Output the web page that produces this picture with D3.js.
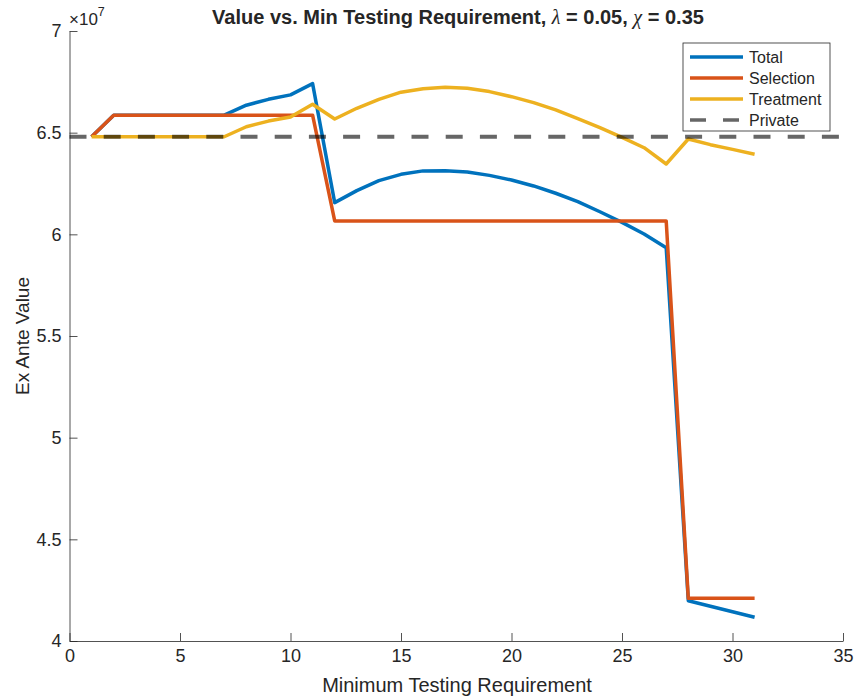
<!DOCTYPE html>
<html><head><meta charset="utf-8">
<script src="https://cdn.jsdelivr.net/npm/d3@7"></script>
<style>
body{margin:0;background:#fff;}
text{font-family:"Liberation Sans",Arial,Helvetica,sans-serif;fill:#262626;}
</style></head>
<body><svg id="chart" width="859" height="696"></svg>
<script>
// ---- data ----
const xTotal = [1,2,3,4,5,6,7,8,9,10,11,12,13,14,15,16,17,18,19,20,21,22,23,24,25,26,27,28,29,30,31];
const total = [6.48e7,6.586e7,6.586e7,6.586e7,6.586e7,6.586e7,6.586e7,6.635e7,6.664e7,6.686e7,6.741e7,
  6.156e7,6.215e7,6.264e7,6.295e7,6.312e7,6.313e7,6.307e7,6.29e7,6.267e7,6.238e7,6.202e7,6.161e7,6.111e7,6.059e7,6.002e7,5.934e7,
  4.198e7,4.171e7,4.144e7,4.117e7];
const selection = [6.48e7,6.586e7,6.586e7,6.586e7,6.586e7,6.586e7,6.586e7,6.586e7,6.586e7,6.586e7,6.586e7,
  6.066e7,6.066e7,6.066e7,6.066e7,6.066e7,6.066e7,6.066e7,6.066e7,6.066e7,6.066e7,6.066e7,6.066e7,6.066e7,6.066e7,6.066e7,6.066e7,
  4.21e7,4.21e7,4.21e7,4.21e7];
const treatment = [6.48e7,6.48e7,6.48e7,6.48e7,6.48e7,6.48e7,6.48e7,6.529e7,6.557e7,6.577e7,6.64e7,
  6.567e7,6.62e7,6.664e7,6.699e7,6.716e7,6.723e7,6.718e7,6.702e7,6.677e7,6.648e7,6.612e7,6.569e7,6.525e7,6.477e7,6.426e7,6.346e7,
  6.469e7,6.441e7,6.418e7,6.394e7];
const xPrivate = [0,35];
const privateVal = [6.48e7,6.48e7];
const xTicks = [0,5,10,15,20,25,30,35];
const yTicks = [4e7,4.5e7,5e7,5.5e7,6e7,6.5e7,7e7];
const seriesNames = ["Total","Selection","Treatment","Private"];
const colors = ["#0072BD","#D95319","#EDB120","rgba(0,0,0,0.6)"];

// ---- layout ----
const svg = d3.select("#chart");
const x = d3.scaleLinear().domain([0,35]).range([69.5,843]);
const y = d3.scaleLinear().domain([4e7,7e7]).range([641,31]);

const series = [
  {name:seriesNames[0], xs:xTotal, ys:total, color:colors[0], dash:null},
  {name:seriesNames[1], xs:xTotal, ys:selection, color:colors[1], dash:null},
  {name:seriesNames[2], xs:xTotal, ys:treatment, color:colors[2], dash:null},
  {name:seriesNames[3], xs:xPrivate, ys:privateVal, color:colors[3], dash:"17,17.2"}
];

// axes
const xAxis = d3.axisBottom(x).tickValues(xTicks).tickSize(-8).tickSizeOuter(0).tickPadding(7)
  .tickFormat(d3.format("d"));
const gx = svg.append("g").attr("transform","translate(0,641)").call(xAxis);
const yAxis = d3.axisLeft(y).tickValues(yTicks).tickSize(-8).tickSizeOuter(0).tickPadding(8)
  .tickFormat(d => String(Math.round(d/1e6)/10));
const gy = svg.append("g").attr("transform","translate(69.5,0)").call(yAxis);
[gx,gy].forEach(g=>{
  g.selectAll("path.domain").attr("stroke","#262626").attr("stroke-width",0.8);
  g.selectAll(".tick line").attr("stroke","#262626").attr("stroke-width",0.8);
  g.selectAll(".tick text").style("font-size","18px").attr("fill","#262626")
   .style("font-family","'Liberation Sans',Arial,sans-serif");
});
gx.selectAll(".tick text").attr("dy","0.8em");

// lines
const line = d3.line();
series.forEach(s=>{
  svg.append("path")
    .attr("d", line(s.xs.map((v,i)=>[x(v), y(s.ys[i])])))
    .attr("fill","none").attr("stroke",s.color).attr("stroke-width",s.dash?4:3.5)
    .attr("stroke-linejoin","round")
    .attr("stroke-dasharray",s.dash);
});

// exponent label
const ex = svg.append("text").attr("x",69).attr("y",25).style("font-size","17px");
ex.append("tspan").text("\u00d710");
ex.append("tspan").attr("dy",-9).style("font-size","12.5px").text("7");

// title
const t = svg.append("text").attr("x",458).attr("y",24).attr("text-anchor","middle")
  .style("font-size","20px").style("font-weight","bold");
t.append("tspan").text("Value vs. Min Testing Requirement, ");
t.append("tspan").style("font-family","'Liberation Serif','Times New Roman',serif").style("font-style","italic").style("font-weight","normal").text("\u03bb");
t.append("tspan").text(" = 0.05, ");
t.append("tspan").style("font-family","'Liberation Serif','Times New Roman',serif").style("font-style","italic").style("font-weight","normal").text("\u03c7");
t.append("tspan").text(" = 0.35");

// axis labels
svg.append("text").attr("x",457).attr("y",692).attr("text-anchor","middle")
  .style("font-size","20px").text("Minimum Testing Requirement");
svg.append("text").attr("transform","translate(29,336) rotate(-90)").attr("text-anchor","middle")
  .style("font-size","19px").text("Ex Ante Value");

// legend
const lg = svg.append("g");
lg.append("rect").attr("x",683).attr("y",43).attr("width",147).attr("height",88)
  .attr("fill","#fff").attr("stroke","#262626").attr("stroke-width",0.8);
series.forEach((s,i)=>{
  const yy = 57 + i*21;
  lg.append("line").attr("x1",690).attr("x2",743).attr("y1",yy).attr("y2",yy)
    .attr("stroke",s.color).attr("stroke-width",3.5).attr("stroke-dasharray",s.dash?"16,17":null);
  lg.append("text").attr("x",749).attr("y",yy).attr("dy","0.35em").style("font-size","16px").text(s.name);
});
</script></body></html>
